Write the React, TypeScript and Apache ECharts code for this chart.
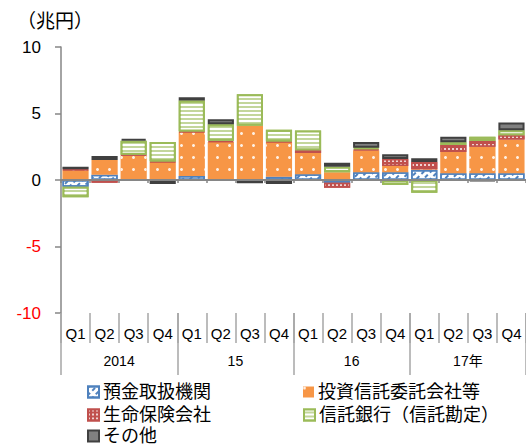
import { useEffect, useRef } from 'react';
import * as echarts from 'echarts';

// Quarterly net purchases by investor type (trillion yen)
const quarters = ['Q1', 'Q2', 'Q3', 'Q4', 'Q1', 'Q2', 'Q3', 'Q4', 'Q1', 'Q2', 'Q3', 'Q4', 'Q1', 'Q2', 'Q3', 'Q4'];
const years = ['2014', '15', '16', '17年'];

const depository = [-0.5, 0.4, 0.05, 0, 0.3, 0, 0, 0.25, 0.43, -0.2, 0.58, 0.58, 0.75, 0.5, 0.5, 0.5];
const investmentTrust = [0.75, 1.1, 1.8, 1.35, 3.3, 2.85, 4.08, 2.6, 1.6, 0.58, 1.65, 0.47, 0.05, 1.6, 2.0, 2.55];
const lifeInsurance = [0.05, -0.2, 0.05, 0.05, 0.05, 0.1, 0, 0.05, 0.2, -0.38, 0.1, 0.53, 0.55, 0.53, 0.43, 0.32];
const trustBanks = [-0.8, 0, 1.05, 1.45, 2.33, 1.25, 2.36, 0.88, 1.5, 0.42, 0.1, -0.38, -0.95, 0.2, 0.32, 0.38];
const others = [0.2, 0.3, 0.15, -0.3, 0.25, 0.37, -0.25, -0.3, 0, 0.3, 0.42, 0.35, 0.28, 0.42, -0.07, 0.58];

const Y_MIN = -10;
const Y_MAX = 10;
const Y_STEP = 5;

const FONT = '"Liberation Sans", "Noto Sans CJK JP", sans-serif';

type SeriesDef = {
  name: string;
  values: number[];
  fill: string;
  border: string;
  borderWidth: number;
  decal?: any;
};

const seriesDefs: SeriesDef[] = [
  {
    name: '預金取扱機関',
    values: depository,
    fill: '#ffffff',
    border: '#4f81bd',
    borderWidth: 1.5,
    decal: {
      symbol: 'rect',
      symbolSize: 1,
      color: '#4f81bd',
      dashArrayX: [4, 3],
      dashArrayY: [1.5, 3],
      rotation: -Math.PI / 4,
    },
  },
  {
    name: '投資信託委託会社等',
    values: investmentTrust,
    fill: '#f79646',
    border: '#f79646',
    borderWidth: 0,
    decal: {
      symbol: 'circle',
      symbolSize: 1,
      color: 'rgba(255,255,255,0.85)',
      dashArrayX: [2.5, 8.5],
      dashArrayY: [2.5, 8.5],
    },
  },
  {
    name: '生命保険会社',
    values: lifeInsurance,
    fill: '#c0504d',
    border: '#c0504d',
    borderWidth: 1.5,
    decal: {
      symbol: 'rect',
      symbolSize: 1,
      color: 'rgba(255,255,255,0.75)',
      dashArrayX: [1.5, 1.5],
      dashArrayY: [1.5, 1.5],
    },
  },
  {
    name: '信託銀行（信託勘定）',
    values: trustBanks,
    fill: '#c3d69b',
    border: '#9bbb59',
    borderWidth: 2,
    decal: {
      symbol: 'rect',
      symbolSize: 1,
      color: '#ffffff',
      dashArrayX: [10, 0],
      dashArrayY: [2, 2],
    },
  },
  {
    name: 'その他',
    values: others,
    fill: '#808080',
    border: '#404040',
    borderWidth: 2,
  },
];

// legend item positions: two columns, three rows
const legendSlots = [
  { left: 87, top: 383 },
  { left: 303, top: 383 },
  { left: 87, top: 406 },
  { left: 303, top: 406 },
  { left: 87, top: 427 },
];

export default function App() {
  const ref = useRef<HTMLDivElement>(null);

  useEffect(() => {
    document.body.style.margin = '0';
    if (!ref.current) return;
    const chart = echarts.init(ref.current, null, { renderer: 'svg' });

    const series = seriesDefs.map((d) => ({
      name: d.name,
      type: 'bar',
      stack: 'total',
      xAxisIndex: 0,
      yAxisIndex: 0,
      barCategoryGap: '10%',
      data: d.values.map((v) => (v === 0 ? null : v)),
      itemStyle: {
        color: d.fill,
        borderColor: d.border,
        borderWidth: d.borderWidth,
        decal: d.decal,
      },
    }));

    const legends = seriesDefs.map((d, i) => ({
      data: [d.name],
      left: legendSlots[i].left,
      top: legendSlots[i].top,
      padding: 0,
      icon: 'rect',
      itemWidth: 11,
      itemHeight: 11,
      itemGap: 0,
      selectedMode: false,
      textStyle: { fontSize: 18, color: '#000', fontFamily: FONT, padding: [0, 0, 0, -1] },
    }));

    chart.setOption({
      animation: false,
      aria: { enabled: false, decal: { show: false } },
      textStyle: { fontFamily: FONT },
      graphic: [
        {
          type: 'text',
          left: 17,
          top: 12,
          style: { text: '（兆円）', fontSize: 19, fill: '#000', fontFamily: FONT },
        },
      ],
      legend: legends,
      grid: { left: 61, top: 47, width: 466, height: 266, containLabel: false },
      xAxis: [
        {
          type: 'category',
          data: quarters,
          position: 'bottom',
          axisLine: { onZero: true, lineStyle: { color: '#868686', width: 2 } },
          axisTick: { show: true, length: 3, lineStyle: { color: '#868686', width: 1.5 } },
          axisLabel: { show: false },
          splitLine: { show: false },
          z: 5,
        },
        {
          type: 'category',
          data: quarters,
          position: 'bottom',
          axisLine: { show: false, onZero: false },
          axisTick: { show: true, length: 30, lineStyle: { color: '#a6a6a6', width: 1.5 } },
          axisLabel: { show: true, margin: 13, fontSize: 15, color: '#000', fontFamily: FONT },
          splitLine: { show: false },
        },
        {
          type: 'category',
          data: years,
          position: 'bottom',
          axisLine: { show: false, onZero: false },
          axisTick: { show: true, length: 62, lineStyle: { color: '#a6a6a6', width: 1.5 } },
          axisLabel: { show: true, margin: 41, fontSize: 14, color: '#000', fontFamily: FONT },
          splitLine: { show: false },
        },
      ],
      yAxis: {
        type: 'value',
        min: Y_MIN,
        max: Y_MAX,
        interval: Y_STEP,
        axisLine: { show: true, lineStyle: { color: '#868686', width: 1.5 } },
        axisTick: { show: true, length: 6, lineStyle: { color: '#868686', width: 1.5 } },
        splitLine: { show: false },
        axisLabel: {
          margin: 20,
          fontSize: 17,
          fontFamily: FONT,
          formatter: (v: number) => (v < 0 ? `{neg|${v}}` : `{pos|${v}}`),
          rich: {
            neg: { color: '#ff0000', fontSize: 17, fontFamily: FONT },
            pos: { color: '#000000', fontSize: 17, fontFamily: FONT },
          },
        },
      },
      series,
    });

    return () => chart.dispose();
  }, []);

  return <div ref={ref} style={{ width: 526, height: 447 }} />;
}
